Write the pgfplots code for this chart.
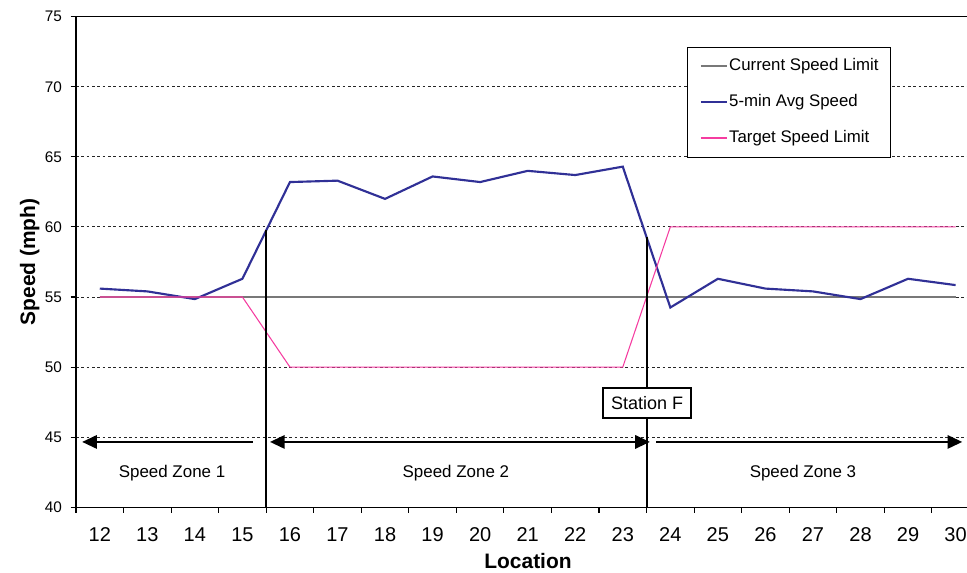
\documentclass[border=0pt]{standalone}
\usepackage{fontspec}
\setmainfont{Liberation Sans}
\usepackage{pgfplots}
\usepackage{pgfplotstable}
\pgfplotsset{compat=1.18}
\usetikzlibrary{arrows.meta}
\definecolor{navyline}{RGB}{48,48,150}
\definecolor{pinkline}{RGB}{245,60,160}
\definecolor{curgray}{RGB}{120,120,120}

\pgfplotstableread{
loc cur avg target
12 55 55.6 55
13 55 55.4 55
14 55 54.85 55
15 55 56.3 55
16 55 63.2 50
17 55 63.3 50
18 55 62.0 50
19 55 63.6 50
20 55 63.2 50
21 55 64.0 50
22 55 63.7 50
23 55 64.3 50
24 55 54.25 60
25 55 56.3 60
26 55 55.6 60
27 55 55.4 60
28 55 54.85 60
29 55 56.3 60
30 55 55.85 60
}\speeddata

\begin{document}
\begin{tikzpicture}
\useasboundingbox (-57pt,-49.3pt) rectangle (668.25pt,380.45pt);
\begin{axis}[
  at={(0pt,0pt)}, anchor=south west,
  scale only axis, width=668.25pt, height=367.95pt,
  xmin=11.5, xmax=30.24, ymin=40, ymax=75,
  clip=false,
  axis x line*=bottom, axis y line*=left,
  axis line style={line width=0.8pt, black},
  tick align=outside,
  major tick length=4pt,
  tick style={black, line width=0.8pt},
  xtick={11.5,12.5,...,29.5},
  xticklabels={},
  extra x ticks={12,13,14,15,16,17,18,19,20,21,22,23,24,25,26,27,28,29,30},
  extra x tick labels={12,13,14,15,16,17,18,19,20,21,22,23,24,25,26,27,28,29,30},
  extra x tick style={tick style={draw=none}},
  ytick={40,45,...,75},
  /pgf/number format/assume math mode=true,
  xticklabel style={font=\fontsize{15}{17}\selectfont, yshift=-7.5pt},
  yticklabel style={font=\fontsize{11.5}{13}\selectfont, xshift=-3pt},
  ymajorgrids,
  major grid style={black!85, line width=0.7pt, dash pattern=on 2pt off 2pt},
  xlabel={Location},
  xlabel style={at={(rel axis cs:0.5073,-0.1095)}, anchor=center, font=\bfseries\fontsize{15.7}{18}\selectfont},
  ylabel={Speed (mph)},
  ylabel style={at={(rel axis cs:-0.0520,0.5)}, anchor=center, font=\bfseries\fontsize{15.7}{18}\selectfont},
  legend image code/.code={\draw[#1] (0pt,0pt) -- (19.5pt,0pt);},
  legend cell align=left,
  legend style={at={(rel axis cs:0.6861,0.9389)}, anchor=north west,
    draw=black, line width=0.6pt, fill=white,
    font=\fontsize{12.6}{15}\selectfont,
    inner xsep=9pt, inner ysep=8.25pt, row sep=15pt, column sep=1pt,
    nodes={inner sep=0pt, text height=9pt, text depth=3pt, anchor=west}},
]
\addplot[curgray, line width=0.8pt] table[x=loc, y=cur] {\speeddata};
\addlegendentry{Current Speed Limit}
\addplot[navyline, line width=1.6pt] table[x=loc, y=avg] {\speeddata};
\addlegendentry{5-min Avg Speed}
\addplot[pinkline, line width=0.8pt] table[x=loc, y=target] {\speeddata};
\addlegendentry{Target Speed Limit}

\addplot[black, line width=1.5pt, forget plot] coordinates {(15.5,40) (15.5,59.75)};
\addplot[black, line width=1.5pt, forget plot] coordinates {(23.5,40) (23.5,59.275)};

\addplot[black, line width=1.5pt, -{Triangle[length=11pt,width=10pt]}, forget plot] coordinates {(15.22,44.66) (11.63,44.66)};
\addplot[black, line width=1.5pt, {Triangle[length=11pt,width=10pt]}-{Triangle[length=11pt,width=10pt]}, forget plot] coordinates {(15.58,44.66) (23.57,44.66)};
\addplot[black, line width=1.5pt, -{Triangle[length=11pt,width=10pt]}, forget plot] coordinates {(23.70,44.66) (30.14,44.66)};

\draw[black, line width=0.8pt] (rel axis cs:0,1) -- (rel axis cs:1,1);

\node[font=\fontsize{12.7}{15}\selectfont, anchor=base] at (axis cs:13.52,42.09) {Speed Zone 1};
\node[font=\fontsize{12.7}{15}\selectfont, anchor=base] at (axis cs:19.49,42.09) {Speed Zone 2};
\node[font=\fontsize{12.7}{15}\selectfont, anchor=base] at (axis cs:26.79,42.09) {Speed Zone 3};
\node[draw=black, line width=1pt, fill=white, minimum width=66pt, minimum height=22.5pt, inner sep=0pt, font=\fontsize{13.5}{16}\selectfont] at (axis cs:23.51,47.44) {Station F};
\end{axis}
\end{tikzpicture}
\end{document}
